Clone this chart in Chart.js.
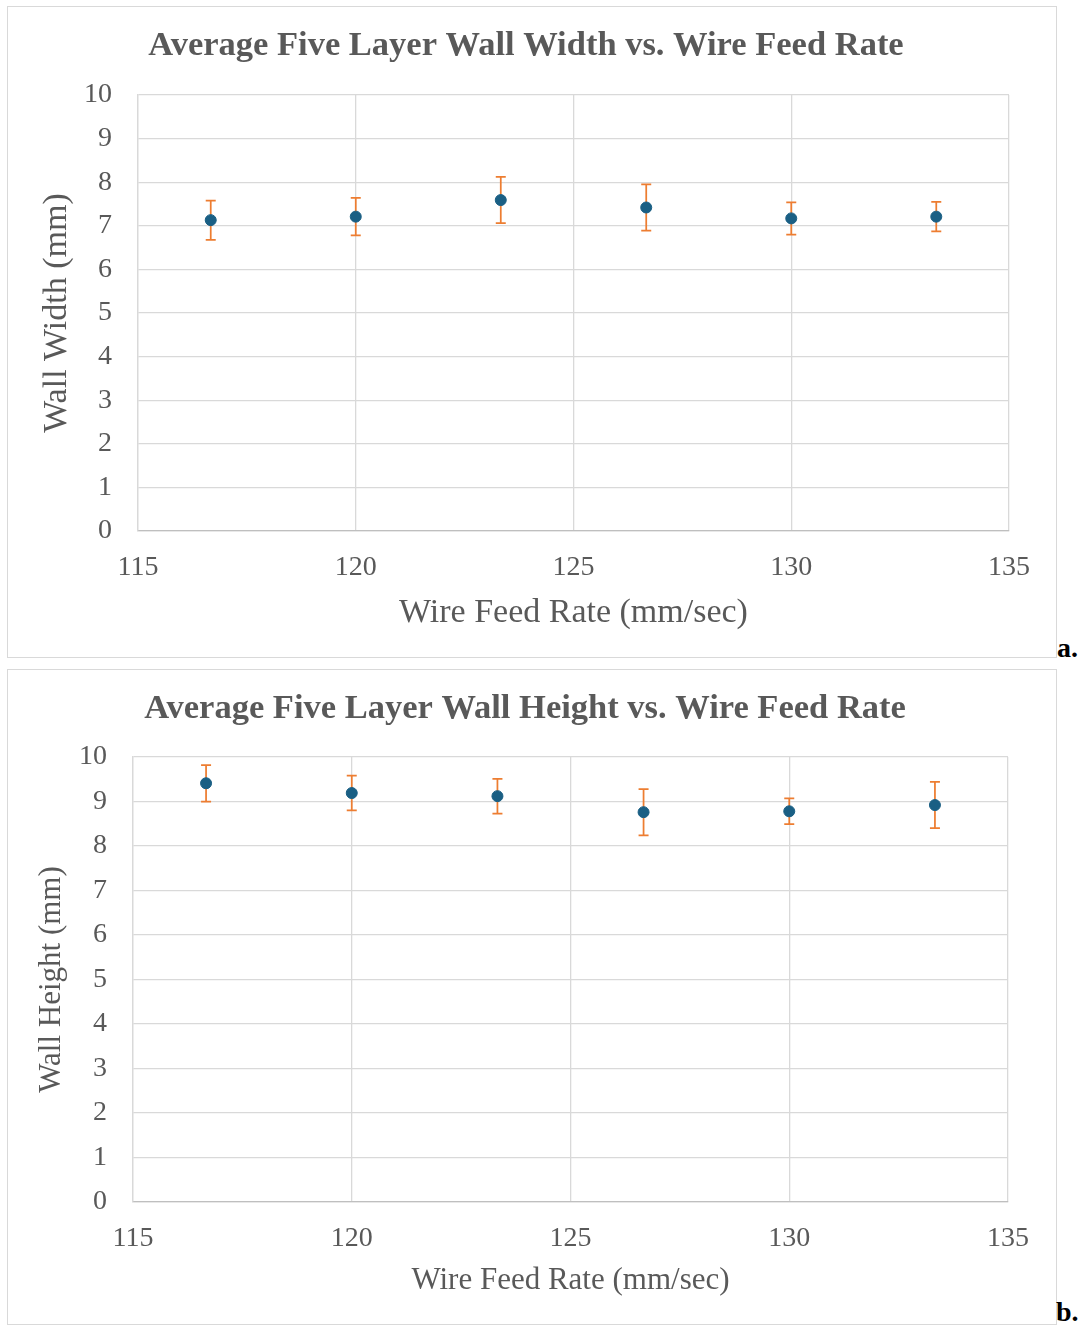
<!DOCTYPE html>
<html>
<head>
<meta charset="utf-8">
<script src="https://cdn.jsdelivr.net/npm/chart.js@4.4.1/dist/chart.umd.min.js"></script>
<style>
    body { margin: 0; background: #fff; width: 1086px; height: 1326px; position: relative; overflow: hidden; }
    .box { position: absolute; border: 1px solid #d9d9d9; background: #fff; }
    .box canvas { display: block; }
    .tag { position: absolute; font: bold 28px "Liberation Serif", serif; color: #000; }
</style>
</head>
<body>
<div class="box" style="left:7px; top:6px; width:1048px; height:650px;"><canvas id="widthChart" width="1048" height="650"></canvas></div>
<div class="tag" style="left:1057px; top:632px;">a.</div>
<div class="box" style="left:7px; top:669px; width:1048px; height:654px;"><canvas id="heightChart" width="1048" height="654"></canvas></div>
<div class="tag" style="left:1056px; top:1296px;">b.</div>
<script>
// Data
const feedRate = [116.67, 120, 123.33, 126.67, 130, 133.33];
const widthMean = [7.13, 7.21, 7.59, 7.42, 7.17, 7.21];
const widthErr = [0.45, 0.43, 0.53, 0.53, 0.37, 0.34];
const heightMean = [9.41, 9.19, 9.12, 8.76, 8.78, 8.92];
const heightErr = [0.41, 0.39, 0.39, 0.52, 0.29, 0.52];
const xTicks = [115, 120, 125, 130, 135];
const yTicks = [0, 1, 2, 3, 4, 5, 6, 7, 8, 9, 10];

const serif = '"Liberation Serif", "Times New Roman", serif';
const textGrey = '#595959';

// draws vertical error bars under the points, through the chart's scales
const errorBars = {
    id: 'errorBars',
    beforeDatasetsDraw(chart) {
        const ctx = chart.ctx;
        const xs = chart.scales.x, ys = chart.scales.y;
        chart.data.datasets.forEach(ds => {
            if (!ds.errors) return;
            ctx.save();
            ctx.strokeStyle = '#ed7d31';
            ctx.lineWidth = 1.75;
            ds.data.forEach((p, i) => {
                const e = ds.errors[i];
                const px = xs.getPixelForValue(p.x);
                const top = ys.getPixelForValue(p.y + e);
                const bot = ys.getPixelForValue(p.y - e);
                ctx.beginPath();
                ctx.moveTo(px, top); ctx.lineTo(px, bot);
                ctx.moveTo(px - 5, top); ctx.lineTo(px + 5, top);
                ctx.moveTo(px - 5, bot); ctx.lineTo(px + 5, bot);
                ctx.stroke();
            });
            ctx.restore();
        });
    }
};

function makeChart(id, title, yTitle, means, errs, geo) {
    new Chart(document.getElementById(id), {
        type: 'scatter',
        data: {
            datasets: [{
                data: feedRate.map((x, i) => ({x: x, y: means[i]})),
                errors: errs,
                backgroundColor: '#1a5f84',
                borderColor: '#1a5f84',
                pointRadius: 5.5,
                pointHoverRadius: 5.5
            }]
        },
        options: {
            responsive: false,
            animation: false,
            layout: { padding: { left: geo.padLeft, right: geo.right, top: 0, bottom: 0 } },
            plugins: {
                legend: { display: false },
                tooltip: { enabled: false },
                title: {
                    display: true,
                    text: title,
                    color: textGrey,
                    font: { family: serif, size: 34.5, weight: 'bold', lineHeight: 1 },
                    padding: { top: 22, bottom: geo.top - 56.5 }
                }
            },
            scales: {
                x: {
                    type: 'linear',
                    min: 115,
                    max: 135,
                    afterBuildTicks: s => { s.ticks = xTicks.map(v => ({value: v})); },
                    grid: { color: '#d9d9d9', drawTicks: false, lineWidth: 1.3 },
                    border: { color: '#bfbfbf', width: 1.3 },
                    ticks: { color: textGrey, padding: 20, font: { family: serif, size: 28 } },
                    title: {
                        display: true,
                        text: 'Wire Feed Rate (mm/sec)',
                        color: textGrey,
                        font: { family: serif, size: geo.axisFont, lineHeight: 1 },
                        padding: { top: 0, bottom: geo.xTitlePad }
                    },
                    afterFit: s => { s.height = geo.bottom; }
                },
                y: {
                    min: 0,
                    max: 10,
                    afterBuildTicks: s => { s.ticks = yTicks.map(v => ({value: v})); },
                    grid: { color: '#d9d9d9', drawTicks: false, lineWidth: 1.3 },
                    border: { color: '#d9d9d9', width: 1.3 },
                    ticks: { color: textGrey, padding: 26, font: { family: serif, size: 28 } },
                    title: {
                        display: true,
                        text: yTitle,
                        color: textGrey,
                        font: { family: serif, size: geo.axisFont, lineHeight: geo.yTitleLH },
                        padding: { top: geo.yTitlePad, bottom: 0 }
                    },
                    afterFit: s => { s.width = geo.left - geo.padLeft; }
                }
            }
        },
        plugins: [errorBars]
    });
}

makeChart('widthChart', 'Average Five Layer Wall Width vs. Wire Feed Rate', 'Wall Width (mm)',
    widthMean, widthErr,
    { padLeft: 35, left: 130, right: 47, top: 88, bottom: 126, axisFont: 34,
      xTitlePad: 27, yTitleLH: 0.8, yTitlePad: 0.4 });

makeChart('heightChart', 'Average Five Layer Wall Height vs. Wire Feed Rate', 'Wall Height (mm)',
    heightMean, heightErr,
    { padLeft: 34, left: 125, right: 48, top: 87, bottom: 122, axisFont: 31,
      xTitlePad: 28, yTitleLH: 0.6, yTitlePad: 0.7 });
</script>
</body>
</html>
